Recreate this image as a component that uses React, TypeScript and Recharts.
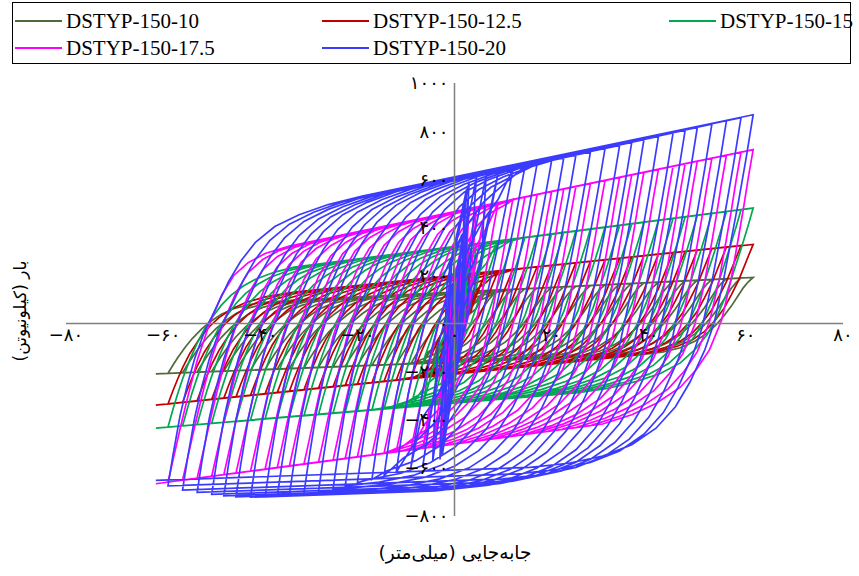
import React from "react";
import { LineChart, Line, XAxis, YAxis, ReferenceLine, ReferenceDot } from "recharts";

// peak displacement of each cycle (mm), same protocol for every specimen
const amps = [1, 1.5, 2, 2.5, 3, 3, 4.5, 6.5, 9, 12, 14.5, 17, 20, 22.5, 25, 28, 31, 34, 36.5, 39, 42, 45, 47.5, 50, 53, 56, 59, 61.5];

const pos10 = [60, 90, 118, 130, 133, 132, 135, 137, 139, 142, 145, 147, 150, 153, 155, 158, 161, 164, 167, 169, 172, 175, 178, 180, 183, 186, 189, 192];
const neg10 = [-60, -90, -118, -145, -160, -161, -164, -165, -167, -170, -172, -174, -176, -178, -180, -182, -185, -187, -189, -191, -194, -196, -198, -200, -202, -205, -207, -209];
const pos125 = [100, 150, 190, 203, 206, 205, 209, 214, 219, 225, 230, 236, 242, 247, 253, 259, 265, 271, 277, 282, 288, 295, 300, 305, 311, 318, 324, 329];
const neg125 = [-100, -150, -195, -212, -216, -217, -219, -224, -229, -235, -240, -246, -252, -257, -263, -269, -275, -281, -287, -292, -298, -305, -310, -315, -321, -328, -334, -339];
const pos15 = [130, 195, 260, 318, 328, 327, 332, 337, 343, 351, 358, 364, 372, 379, 385, 393, 401, 408, 415, 421, 429, 437, 444, 450, 458, 466, 473, 480];
const neg15 = [-130, -195, -260, -320, -335, -336, -338, -341, -345, -350, -355, -359, -364, -368, -372, -378, -383, -388, -392, -396, -401, -407, -411, -415, -420, -425, -430, -435];
const pos175 = [170, 255, 340, 425, 478, 477, 484, 492, 503, 515, 526, 536, 549, 560, 570, 583, 595, 608, 618, 629, 641, 654, 665, 675, 688, 700, 713, 723];
const neg175 = [-170, -255, -340, -425, -500, -508, -512, -518, -524, -532, -539, -546, -554, -561, -568, -576, -584, -592, -599, -605, -613, -622, -628, -635, -643, -651, -659, -666];
const pos20 = [250, 370, 480, 560, 590, 588, 606, 615, 626, 640, 652, 663, 677, 689, 700, 714, 728, 741, 753, 764, 778, 792, 804, 815, 829, 843, 856, 868];
const neg20 = [-250, -370, -480, -545, -560, -565, -575, -588, -600, -618, -632, -648, -662, -675, -686, -698, -706, -713, -718, -720, -722, -720, -716, -710, -702, -692, -675, -652];

// branch shapes read from the outer loops: [dx from the turning point, share of the way to the edge line]
const reload10 = [[1, 0.12], [2, 0.23], [3.5, 0.38], [5, 0.51], [7, 0.65], [9, 0.76], [11, 0.85], [13.5, 0.92], [16.5, 0.965], [20, 0.99], [26, 1]];
const unload10 = [[-1, 0.06], [-2, 0.14], [-3, 0.24], [-4.5, 0.39], [-6, 0.52], [-7.5, 0.63], [-9.5, 0.75], [-12, 0.85], [-15, 0.93], [-18.5, 0.975], [-23, 1]];
const reload125 = [[1, 0.13], [2, 0.25], [3, 0.36], [4.5, 0.5], [6.5, 0.64], [8.5, 0.75], [10.5, 0.83], [13, 0.9], [16, 0.95], [20, 0.985], [26, 1]];
const unload125 = [[-1, 0.12], [-2, 0.24], [-3, 0.36], [-4.5, 0.5], [-6, 0.63], [-8, 0.75], [-10, 0.84], [-12.5, 0.91], [-15.5, 0.955], [-19, 0.985], [-25, 1]];
const reload15 = [[1, 0.12], [2, 0.23], [3, 0.33], [4.5, 0.46], [6, 0.57], [7.5, 0.66], [9, 0.73], [11, 0.81], [13, 0.87], [15.5, 0.92], [18, 0.955], [22, 0.985], [26, 1]];
const unload15 = [[-1, 0.1], [-2.5, 0.24], [-4, 0.37], [-5.5, 0.5], [-7.5, 0.63], [-9.5, 0.73], [-12, 0.81], [-15, 0.88], [-19, 0.93], [-24, 0.965], [-30, 0.99], [-36, 1]];
const reload175 = [[1, 0.1], [2.5, 0.25], [4, 0.39], [6, 0.56], [8.5, 0.72], [11, 0.84], [13.5, 0.92], [16.5, 0.965], [20, 0.99], [25, 1]];
const unload175 = [[-1, 0.11], [-2, 0.23], [-3, 0.34], [-4.5, 0.5], [-6.5, 0.66], [-9, 0.77], [-11.7, 0.84], [-15, 0.9], [-20, 0.95], [-25, 0.98], [-31, 1]];
const reload20 = [[1, 0.12], [2.5, 0.28], [4, 0.4], [5.5, 0.5], [7.5, 0.6], [10, 0.69], [12.5, 0.78], [15, 0.85], [18, 0.91], [22, 0.955], [27, 0.98], [33, 0.995], [40, 1]];
const unload20 = [[-1.5, 0.13], [-3, 0.25], [-4.5, 0.36], [-6, 0.47], [-8, 0.6], [-10, 0.68], [-13, 0.77], [-16, 0.84], [-20, 0.9], [-25, 0.945], [-31, 0.975], [-38, 0.992], [-46, 1]];

const xTicks = [-80, -60, -40, -20, 0, 20, 40, 60, 80];
const yTicks = [1000, 800, 600, 400, 200, 0, -200, -400, -600, -800];

type Pt = { x: number; y: number };

function buildLoops(pos: number[], neg: number[], reload: number[][], unload: number[][], sUp: number, sLow: number): Pt[] {
  const pts: Pt[] = [{ x: 0, y: 0 }];
  let a: Pt = { x: 0, y: 0 };
  const half = (b: Pt, shape: number[][], s: number, dir: number) => {
    if (a.x !== 0 || a.y !== 0) {
      for (const [dx, f] of shape) {
        const x = a.x + dx;
        if (dir > 0 ? x >= b.x - 0.5 : x <= b.x + 0.5) break;
        const edge = b.y + s * (x - b.x);
        pts.push({ x, y: a.y + f * (edge - a.y) });
      }
    }
    pts.push(b);
    a = b;
  };
  amps.forEach((d, i) => {
    half({ x: d, y: pos[i] }, reload, sUp, 1);
    half({ x: -d, y: neg[i] }, unload, sLow, -1);
  });
  return pts;
}

const series = [
  { name: "DSTYP-150-10", color: "#50693A", data: buildLoops(pos10, neg10, reload10, unload10, 1.0, 0.8) },
  { name: "DSTYP-150-12.5", color: "#C00000", data: buildLoops(pos125, neg125, reload125, unload125, 2.1, 2.1) },
  { name: "DSTYP-150-15", color: "#00A84F", data: buildLoops(pos15, neg15, reload15, unload15, 2.6, 1.7) },
  { name: "DSTYP-150-17.5", color: "#FF00FF", data: buildLoops(pos175, neg175, reload175, unload175, 4.2, 2.7) },
  { name: "DSTYP-150-20", color: "#3B3BFF", data: buildLoops(pos20, neg20, reload20, unload20, 4.2, 0.7) },
];

const fa = (n: number) =>
  (n < 0 ? "\u2212" : "") + String(Math.abs(n)).replace(/\d/g, (d) => "۰۱۲۳۴۵۶۷۸۹"[+d]);

const legendSpots = [
  { left: 2, top: 19 },
  { left: 309, top: 19 },
  { left: 656, top: 19 },
  { left: 2, top: 46 },
  { left: 309, top: 46 },
];

const tickFont = { fill: "#000", fontSize: 18, fontFamily: "DejaVu Sans" };

export default function App() {
  return (
    <div style={{ position: "absolute", left: 0, top: 0, width: 859, height: 576, background: "#fff" }}>
      <LineChart width={859} height={576} margin={{ top: 83, right: 16, bottom: 60, left: 66 }}>
        <XAxis type="number" dataKey="x" domain={[-80, 80]} hide allowDataOverflow />
        <YAxis type="number" domain={[-800, 1000]} hide allowDataOverflow />
        {series.map((s) => (
          <Line
            key={s.name}
            data={s.data}
            dataKey="y"
            type="linear"
            stroke={s.color}
            strokeWidth={1.7}
            dot={false}
            isAnimationActive={false}
          />
        ))}
        <ReferenceLine y={0} stroke="#808080" strokeWidth={1.5} />
        <ReferenceLine x={0} stroke="#808080" strokeWidth={1.5} />
        {xTicks.map((t) => (
          <ReferenceDot
            key={"x" + t}
            x={t}
            y={0}
            r={0}
            stroke="none"
            fill="none"
            label={{ value: fa(t), position: "bottom", offset: 5, ...tickFont }}
          />
        ))}
        {yTicks.map((t) => (
          <ReferenceDot
            key={"y" + t}
            x={0}
            y={t}
            r={0}
            stroke="none"
            fill="none"
            label={{ value: fa(t), position: "left", offset: 6, ...tickFont }}
          />
        ))}
      </LineChart>

      <div
        style={{
          position: "absolute",
          left: 12,
          top: 2,
          width: 837,
          height: 60,
          border: "1px solid #000",
          fontFamily: "Liberation Serif",
          fontSize: 21,
        }}
      >
        {series.map((s, i) => (
          <div
            key={s.name}
            style={{
              position: "absolute",
              left: legendSpots[i].left,
              top: legendSpots[i].top - 13,
              height: 24,
              display: "flex",
              alignItems: "center",
              whiteSpace: "nowrap",
            }}
          >
            <span style={{ display: "inline-block", width: 47, height: 2.5, background: s.color, marginRight: 4 }} />
            <span>{s.name}</span>
          </div>
        ))}
      </div>

      <div
        style={{
          position: "absolute",
          left: 335,
          top: 542,
          width: 240,
          textAlign: "center",
          direction: "rtl",
          fontFamily: "DejaVu Sans",
          fontSize: 18.5,
        }}
      >
        جابه‌جایی (میلی‌متر)
      </div>
      <div
        style={{
          position: "absolute",
          left: 20 - 90,
          top: 311 - 12,
          width: 180,
          height: 24,
          lineHeight: "24px",
          textAlign: "center",
          direction: "rtl",
          fontFamily: "DejaVu Sans",
          fontSize: 17,
          transform: "rotate(-90deg)",
        }}
      >
        بار (کیلونیوتن)
      </div>
    </div>
  );
}
